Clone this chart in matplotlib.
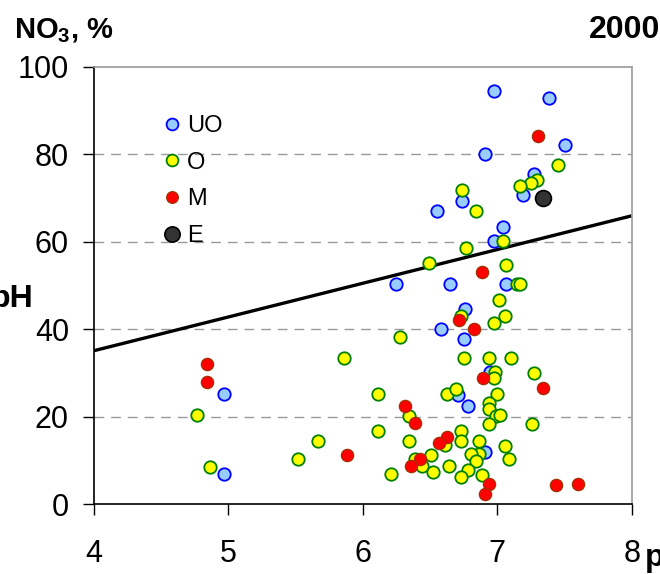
import numpy as np
import matplotlib
matplotlib.use("Agg")
import matplotlib.pyplot as plt
from matplotlib.lines import Line2D

plt.rcParams['font.family'] = ['Liberation Sans', 'DejaVu Sans']
plt.rcParams['mathtext.fontset'] = 'custom'
plt.rcParams['mathtext.rm'] = 'Liberation Sans'
plt.rcParams['mathtext.bf'] = 'Liberation Sans:bold'

# ---- data ----
uo_ph = [6.976, 7.383, 7.507, 6.909, 7.27, 7.19, 6.738, 6.55, 7.045, 6.976,
         6.649, 7.065, 6.25, 6.763, 6.582, 6.75, 6.946, 6.708, 6.785, 6.91,
         4.967, 4.967]
uo_no3 = [94.4, 92.9, 82.1, 80.0, 75.5, 70.7, 69.2, 66.9, 63.4, 60.2,
          50.2, 50.2, 50.2, 44.6, 40.1, 37.7, 30.1, 25.0, 22.5, 12.0,
          25.2, 6.8]

o_ph = [7.45, 7.293, 7.25, 7.167, 6.74, 6.84, 7.045, 6.77, 6.49, 7.065,
        7.15, 7.17, 7.011, 6.733, 7.056, 6.976, 6.277, 5.86, 6.75, 6.94,
        7.10, 6.98, 6.976, 7.27, 6.626, 6.693, 6.998, 6.116, 6.94, 6.94,
        6.99, 7.02, 6.94, 7.26, 6.728, 6.116, 6.344, 4.764, 6.61, 6.728,
        6.862, 6.344, 5.669, 6.867, 6.807, 6.842, 7.056, 7.088, 6.51, 6.385,
        6.437, 6.64, 6.525, 6.785, 6.728, 6.887, 6.21, 4.863, 5.52]
o_no3 = [77.6, 74.1, 73.4, 72.7, 71.7, 66.9, 60.2, 58.6, 55.2, 54.7,
         50.2, 50.2, 46.6, 43.0, 42.9, 41.5, 38.3, 33.5, 33.5, 33.5,
         33.5, 30.1, 28.7, 30.0, 25.1, 26.2, 25.2, 25.2, 23.0, 21.7,
         20.2, 20.4, 18.2, 18.3, 16.8, 16.8, 20.1, 20.3, 13.4, 14.4,
         14.4, 14.4, 14.4, 11.4, 11.4, 9.9, 13.3, 10.2, 11.3, 10.3,
         8.8, 8.8, 7.4, 7.8, 6.1, 6.6, 6.8, 8.5, 10.2]

m_ph = [7.30, 6.887, 6.718, 6.83, 6.897, 7.338, 6.624, 6.569, 6.426, 6.94,
        6.91, 7.44, 7.60, 4.843, 4.843, 6.31, 6.388, 5.88, 6.356]
m_no3 = [84.2, 53.1, 42.1, 40.1, 28.7, 26.6, 15.4, 14.0, 10.2, 4.6,
         2.2, 4.3, 4.6, 32.1, 27.9, 22.5, 18.6, 11.3, 8.8]

e_ph = [7.34]
e_no3 = [70.0]

trend_slope = 7.71
trend_intercept = 4.22

x_ticks = [4, 5, 6, 7, 8]
y_ticks = [0, 20, 40, 60, 80, 100]

# ---- figure ----
fig = plt.figure(figsize=(6.6, 5.74), dpi=100)
ax = fig.add_axes([94/660, 1 - 504/574, (631.7-94)/660, (504-66.7)/574])

ax.set_xlim(4, 8)
ax.set_ylim(0, 100)

for y in [20, 40, 60, 80]:
    ax.axhline(y, color='#9a9a9a', lw=1.0, ls=(0, (7, 5)), zorder=0)

xs = np.array([4.0, 8.0])
ax.plot(xs, trend_slope * xs + trend_intercept, color='black', lw=2.4, zorder=2,
        solid_capstyle='butt')

ms = 80
ax.scatter(uo_ph, uo_no3, s=ms, c='#99CCFF', edgecolors='#0000FF', linewidths=1.3, zorder=3)
ax.scatter(o_ph, o_no3, s=ms, c='#FFFF00', edgecolors='#008000', linewidths=1.3, zorder=3)
ax.scatter(m_ph, m_no3, s=ms, c='#FF0000', edgecolors='#993300', linewidths=0.8, zorder=4)
ax.scatter(e_ph, e_no3, s=130, c='#333333', edgecolors='#000000', linewidths=1.2, zorder=4)

ax.set_xticks(x_ticks)
ax.set_yticks(y_ticks)
ax.set_xticklabels([str(v) for v in x_ticks])
ax.set_yticklabels([str(v) for v in y_ticks])
ax.tick_params(axis='both', direction='out', length=8, width=1, labelsize=22, color='black')
ax.tick_params(axis='x', pad=17)
ax.tick_params(axis='y', pad=10)

ax.spines['left'].set_color('black')
ax.spines['bottom'].set_color('black')
ax.spines['top'].set_color('#9a9a9a')
ax.spines['right'].set_color('#9a9a9a')
for s in ax.spines.values():
    s.set_linewidth(1.2)

handles = [
    Line2D([], [], ls='none', marker='o', ms=8.5, mfc='#99CCFF', mec='#0000FF', mew=1.3),
    Line2D([], [], ls='none', marker='o', ms=8.5, mfc='#FFFF00', mec='#008000', mew=1.3),
    Line2D([], [], ls='none', marker='o', ms=8.5, mfc='#FF0000', mec='#993300', mew=0.8),
    Line2D([], [], ls='none', marker='o', ms=11, mfc='#333333', mec='#000000', mew=1.2),
]
ax.legend(handles, ['UO', 'O', 'M', 'E'], loc='upper left',
          bbox_to_anchor=((162.5-94)/537.7, (504-115)/437.3), frameon=False,
          fontsize=17, handlelength=0.8, handletextpad=0.25, labelspacing=0.62,
          borderpad=0, borderaxespad=0)

fig.text(14/660, 1 - 38/574, r'NO$_\mathbf{3}$, %', fontsize=21, fontweight='bold',
         ha='left', va='baseline')
fig.text(1.0, 1 - 38/574, '2000', fontsize=23, fontweight='bold',
         ha='right', va='baseline')
fig.text(34/660, 1 - 307/574, 'pH', fontsize=23, fontweight='bold',
         ha='right', va='baseline')
fig.text(645/660, 1 - 566/574, 'pH', fontsize=23, fontweight='bold',
         ha='left', va='baseline')

fig.savefig('out.png', dpi=100)
